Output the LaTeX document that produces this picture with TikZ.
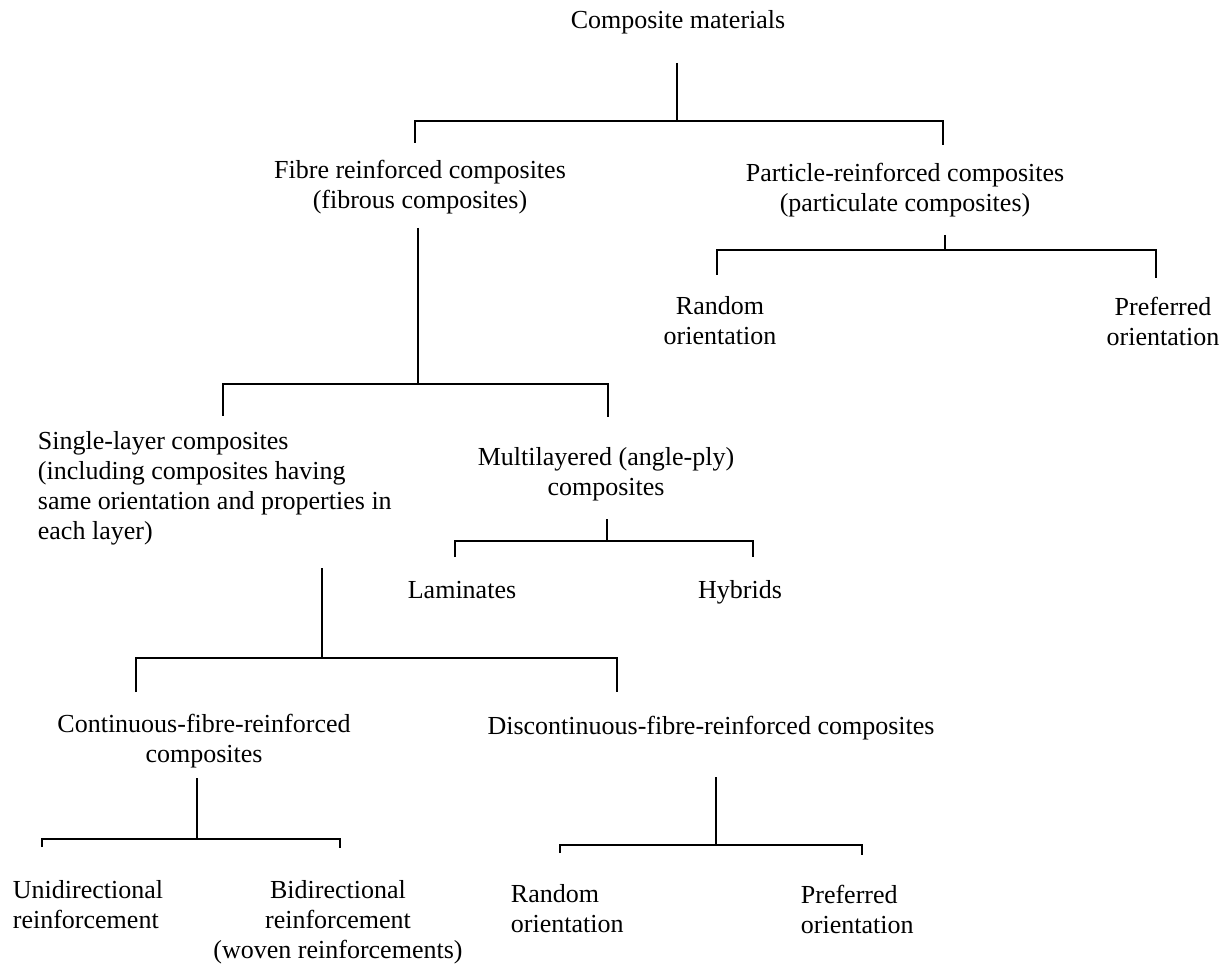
\documentclass[tikz,border=0pt]{standalone}
\usepackage{fontspec}
\setmainfont{Liberation Serif}
\begin{document}
\begin{tikzpicture}[x=0.5pt, y=-0.5pt, line width=0.9pt,
    every node/.style={font=\fontsize{13}{15}\selectfont, inner sep=0pt, align=center}]
      \useasboundingbox (0, 0) rectangle (1225, 967);

      % labels
      \node (root) at (678, 22) {Composite materials};
      \node (fibre) at (420, 187) {Fibre reinforced composites\\(fibrous composites)};
      \node (part) at (905, 190) {Particle-reinforced composites\\(particulate composites)};
      \node (prand) at (720, 321) {Random\\orientation};
      \node (ppref) at (1163, 321) {Preferred\\orientation};
      \node (single) at (37, 488) [anchor=west, align=left] {Single-layer composites\\(including composites having\\same orientation and properties in\\each layer)};
      \node (multi) at (606, 474) {Multilayered (angle-ply)\\composites};
      \node (lam) at (462, 590) {Laminates};
      \node (hyb) at (740, 592) {Hybrids};
      \node (cont) at (204, 741) {Continuous-fibre-reinforced\\composites};
      \node (disc) at (711, 728) {Discontinuous-fibre-reinforced composites};
      \node (uni) at (12, 905) [anchor=west, align=left] {Unidirectional\\reinforcement};
      \node (bi) at (338, 922) {Bidirectional\\reinforcement\\(woven reinforcements)};
      \node (drand) at (510, 909) [anchor=west, align=left] {Random\\orientation};
      \node (dpref) at (800, 909) [anchor=west, align=left] {Preferred\\orientation};

      % composite materials
      \coordinate (r0) at (677, 63);
      \coordinate (r1) at (677, 121);
      \coordinate (fibreT) at (415, 143);
      \coordinate (partT) at (943, 145);
      \draw (r0) -- (r1);
      \draw (fibreT) -- (fibreT |- r1) -- (partT |- r1) -- (partT);

      % fibre reinforced
      \coordinate (f0) at (418, 228);
      \coordinate (f1) at (418, 384);
      \coordinate (singleT) at (223, 416);
      \coordinate (multiT) at (608, 417);
      \draw (f0) -- (f1);
      \draw (singleT) -- (singleT |- f1) -- (multiT |- f1) -- (multiT);

      % particle reinforced
      \coordinate (p0) at (945, 235);
      \coordinate (p1) at (945, 250);
      \coordinate (prandT) at (717, 275);
      \coordinate (pprefT) at (1156, 278);
      \draw (p0) -- (p1);
      \draw (prandT) -- (prandT |- p1) -- (pprefT |- p1) -- (pprefT);

      % single layer
      \coordinate (s0) at (322, 568);
      \coordinate (s1) at (322, 658);
      \coordinate (contT) at (136, 692);
      \coordinate (discT) at (617, 692);
      \draw (s0) -- (s1);
      \draw (contT) -- (contT |- s1) -- (discT |- s1) -- (discT);

      % multilayered
      \coordinate (m0) at (607, 519);
      \coordinate (m1) at (607, 541);
      \coordinate (lamT) at (455, 557);
      \coordinate (hybT) at (753, 557);
      \draw (m0) -- (m1);
      \draw (lamT) -- (lamT |- m1) -- (hybT |- m1) -- (hybT);

      % continuous
      \coordinate (c0) at (197, 778);
      \coordinate (c1) at (197, 839);
      \coordinate (uniT) at (42, 847);
      \coordinate (biT) at (340, 848);
      \draw (c0) -- (c1);
      \draw (uniT) -- (uniT |- c1) -- (biT |- c1) -- (biT);

      % discontinuous
      \coordinate (d0) at (716, 777);
      \coordinate (d1) at (716, 845);
      \coordinate (drandT) at (560, 853);
      \coordinate (dprefT) at (862, 855);
      \draw (d0) -- (d1);
      \draw (drandT) -- (drandT |- d1) -- (dprefT |- d1) -- (dprefT);
    \end{tikzpicture}
\end{document}
